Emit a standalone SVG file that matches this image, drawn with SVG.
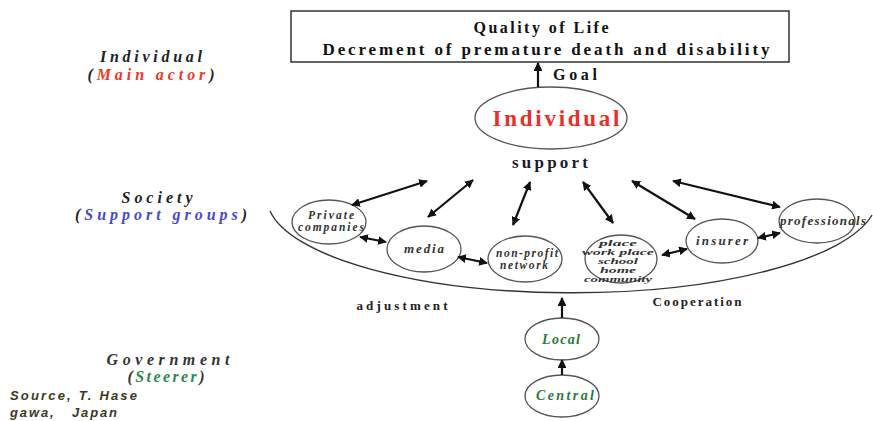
<svg xmlns="http://www.w3.org/2000/svg" width="873" height="421" viewBox="0 0 873 421">
<style>
.b{font-family:"Liberation Serif",serif;font-weight:bold;fill:#111}
.i{font-family:"Liberation Serif",serif;font-weight:bold;font-style:italic;fill:#333}
.e{fill:none;stroke:#555;stroke-width:1.3}
.a{stroke:#111;stroke-width:2.2;fill:none}
.src{font-family:"Liberation Sans",sans-serif;font-weight:bold;font-style:italic;fill:#3a3a22;font-size:13px}
</style>
<defs>
<marker id="h" viewBox="0 0 10 10" refX="9" refY="5" markerWidth="4" markerHeight="4" orient="auto-start-reverse" markerUnits="strokeWidth">
<path d="M0,0 L10,5 L0,10 z" fill="#111"/>
</marker>
</defs>
<rect width="873" height="421" fill="#fff"/>

<g id="goalbox">
<rect x="291" y="11" width="498" height="51" fill="#fff" stroke="#333" stroke-width="1.5"/>
<text class="b" x="541" y="33" font-size="16" text-anchor="middle" textLength="135" lengthAdjust="spacing">Quality of Life</text>
<text class="b" x="546" y="55" font-size="17" text-anchor="middle" textLength="447" lengthAdjust="spacing">Decrement of premature death and disability</text>
</g>

<g id="individual">
<ellipse class="e" cx="551" cy="118" rx="76" ry="31"/>
<text class="b" x="556" y="126" font-size="23" text-anchor="middle" style="fill:#e8302a" textLength="127" lengthAdjust="spacing">Individual</text>
</g>

<g id="labels">
<text class="b" x="575" y="80" font-size="16" text-anchor="middle" textLength="44" lengthAdjust="spacing">Goal</text>
<text class="b" x="550" y="168" font-size="17" text-anchor="middle" textLength="76" lengthAdjust="spacing" style="fill:#1a1a2a">support</text>
<text class="b" x="402" y="310" font-size="13" text-anchor="middle" textLength="91" lengthAdjust="spacing" style="fill:#222">adjustment</text>
<text class="b" x="697" y="306" font-size="13" text-anchor="middle" textLength="89" lengthAdjust="spacing" style="fill:#222">Cooperation</text>
<text class="i" x="151" y="62" font-size="16" text-anchor="middle" textLength="102" lengthAdjust="spacing" style="fill:#222">Individual</text>
<text class="i" x="151" y="80" font-size="16" text-anchor="middle" textLength="127" lengthAdjust="spacing" style="fill:#222">(<tspan style="fill:#e83a2a">Main actor</tspan>)</text>
<text class="i" x="157" y="203" font-size="16" text-anchor="middle" textLength="71" lengthAdjust="spacing" style="fill:#222">Society</text>
<text class="i" x="161" y="220" font-size="16" text-anchor="middle" textLength="172" lengthAdjust="spacing" style="fill:#222">(<tspan style="fill:#4a4ac8">Support groups</tspan>)</text>
<text class="i" x="168" y="365" font-size="16" text-anchor="middle" textLength="123" lengthAdjust="spacing" style="fill:#333">Government</text>
<text class="i" x="166" y="382" font-size="16" text-anchor="middle" textLength="77" lengthAdjust="spacing" style="fill:#333">(<tspan style="fill:#2f8a4a">Steerer</tspan>)</text>
<text class="src" x="10" y="400" textLength="127" lengthAdjust="spacing">Source, T. Hase</text>
<text class="src" x="10" y="417" textLength="107" lengthAdjust="spacing" xml:space="preserve">gawa,   Japan</text>
</g>

<g id="society-arc">
<path d="M270,211 A305,95 0 0 0 872,215" fill="none" stroke="#333" stroke-width="1.4"/>
</g>

<g id="private">
<ellipse class="e" cx="329" cy="222" rx="37" ry="22"/>
<text class="i" x="331" y="219" font-size="11.5" text-anchor="middle" textLength="46" lengthAdjust="spacing">Private</text>
<text class="i" x="331" y="231" font-size="11.5" text-anchor="middle" textLength="66" lengthAdjust="spacing">companies</text>
</g>
<g id="media">
<ellipse class="e" cx="424" cy="249" rx="37" ry="23"/>
<text class="i" x="424" y="253" font-size="13" text-anchor="middle" textLength="40" lengthAdjust="spacing">media</text>
</g>
<g id="nonprofit">
<ellipse class="e" cx="525" cy="259" rx="37" ry="23"/>
<text class="i" x="527" y="257" font-size="11.5" text-anchor="middle" textLength="62" lengthAdjust="spacing">non-profit</text>
<text class="i" x="524" y="269" font-size="11.5" text-anchor="middle" textLength="48" lengthAdjust="spacing">network</text>
</g>
<g id="place">
<ellipse class="e" cx="621" cy="259" rx="36" ry="24"/>
<text class="i" x="618" y="246" font-size="9" text-anchor="middle" textLength="38" lengthAdjust="spacingAndGlyphs">place</text>
<text class="i" x="618" y="255" font-size="9" text-anchor="middle" textLength="72" lengthAdjust="spacingAndGlyphs">work place</text>
<text class="i" x="618" y="264" font-size="9" text-anchor="middle" textLength="40" lengthAdjust="spacingAndGlyphs">school</text>
<text class="i" x="618" y="273" font-size="9" text-anchor="middle" textLength="36" lengthAdjust="spacingAndGlyphs">home</text>
<text class="i" x="618" y="282" font-size="9" text-anchor="middle" textLength="68" lengthAdjust="spacingAndGlyphs">community</text>
</g>
<g id="insurer">
<ellipse class="e" cx="722" cy="241" rx="36" ry="22"/>
<text class="i" x="722" y="245" font-size="13" text-anchor="middle" textLength="52" lengthAdjust="spacing">insurer</text>
</g>
<g id="professionals">
<ellipse class="e" cx="817" cy="221" rx="38" ry="22"/>
<text class="i" x="823" y="225" font-size="13" text-anchor="middle" textLength="86" lengthAdjust="spacing">professionals</text>
</g>
<g id="local">
<ellipse class="e" cx="562" cy="339" rx="37" ry="21"/>
<text class="i" x="561" y="344" font-size="14" text-anchor="middle" textLength="38" lengthAdjust="spacing" style="fill:#2a7a3a">Local</text>
</g>
<g id="central">
<ellipse class="e" cx="562" cy="396" rx="37" ry="21"/>
<text class="i" x="565" y="400" font-size="14" text-anchor="middle" textLength="58" lengthAdjust="spacing" style="fill:#2a7a3a">Central</text>
</g>

<g id="connectors">
<line class="a" x1="538" y1="87" x2="538" y2="63" marker-end="url(#h)"/>
<line class="a" x1="352" y1="205" x2="427" y2="181" marker-start="url(#h)" marker-end="url(#h)"/>
<line class="a" x1="428" y1="217" x2="473" y2="180" marker-start="url(#h)" marker-end="url(#h)"/>
<line class="a" x1="513" y1="225" x2="530" y2="182" marker-start="url(#h)" marker-end="url(#h)"/>
<line class="a" x1="583" y1="182" x2="613" y2="223" marker-start="url(#h)" marker-end="url(#h)"/>
<line class="a" x1="632" y1="181" x2="695" y2="219" marker-start="url(#h)" marker-end="url(#h)"/>
<line class="a" x1="673" y1="181" x2="780" y2="207" marker-start="url(#h)" marker-end="url(#h)"/>
<line class="a" x1="360" y1="237" x2="386" y2="242" marker-start="url(#h)" marker-end="url(#h)"/>
<line class="a" x1="458" y1="257" x2="487" y2="263" marker-start="url(#h)" marker-end="url(#h)"/>
<line class="a" x1="662" y1="255" x2="687" y2="249" marker-start="url(#h)" marker-end="url(#h)"/>
<line class="a" x1="758" y1="238" x2="780" y2="233" marker-start="url(#h)" marker-end="url(#h)"/>
<line class="a" x1="562" y1="318" x2="562" y2="298" marker-end="url(#h)"/>
<line class="a" x1="562" y1="375" x2="562" y2="360" marker-end="url(#h)"/>
</g>
</svg>
